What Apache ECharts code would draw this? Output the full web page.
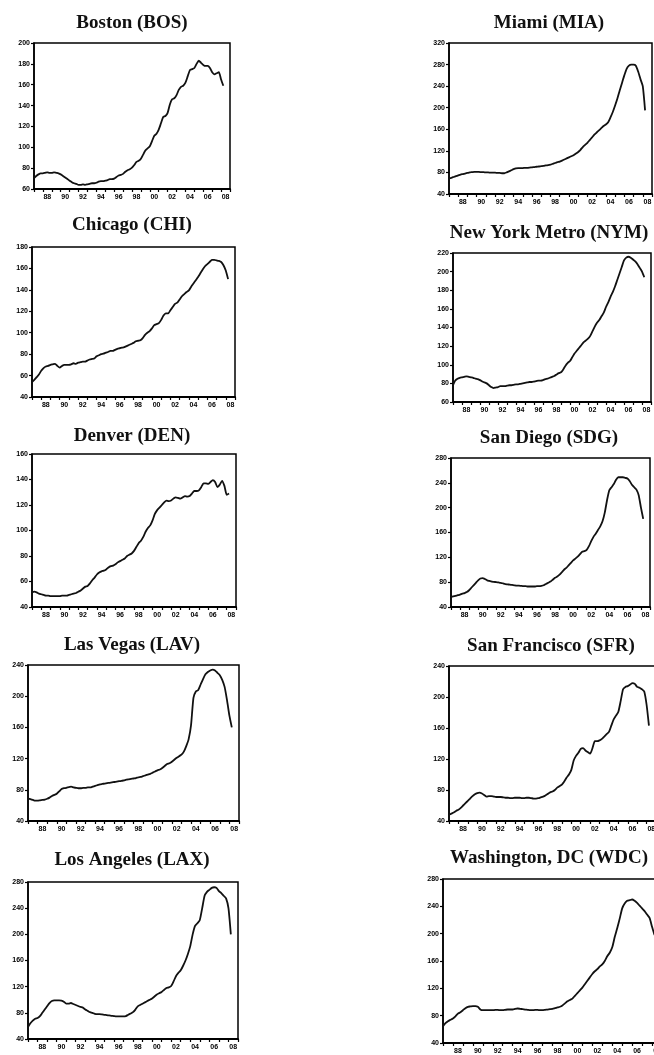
<!DOCTYPE html>
<html><head><meta charset="utf-8">
<script src="https://cdn.jsdelivr.net/npm/echarts@6/dist/echarts.min.js"></script>
<style>html,body{margin:0;padding:0;background:#fff}#c{width:654px;height:1055px}</style>
</head><body><div id="c"></div>
<script>
// ---------- DATA ----------
// quarterly observations, first at 1987 Q1, last at 2008 Q2
const START_YEAR = 1987;
const STEP = 0.25;
const yearCats = ['1987','1988','1989','1990','1991','1992','1993','1994','1995','1996','1997','1998','1999','2000','2001','2002','2003','2004','2005','2006','2007','2008'];
const xTickLabels = ['88','90','92','94','96','98','00','02','04','06','08'];

const titles = ['Boston (BOS)','Miami (MIA)','Chicago (CHI)','New York Metro (NYM)','Denver (DEN)','San Diego (SDG)','Las Vegas (LAV)','San Francisco (SFR)','Los Angeles (LAX)','Washington, DC (WDC)'];

const yMin  = [60, 40, 40, 60, 40, 40, 40, 40, 40, 40];
const yMax  = [200,320,180,220,160,280,240,240,280,280];
const yStep = [20, 40, 20, 20, 20, 40, 40, 40, 40, 40];

const BOS = [70.5,72.5,74,75, 75,75.5,76,75.5, 75.5,76,75.5,75, 74,72.5,71,69.5, 68,66.5,65.5,65, 64,64,64.5,64, 64.5,65,65.5,65.5, 66,67,67.5,67.5, 68,68.5,69.5,69.5, 70,71.5,73,73.5, 74.5,76.5,78,79, 80.5,83,86,87, 89,93,97,99, 101,106,111,113, 117,123,129,130, 133,141,146,147, 150,155,158,159, 162,168,174,175, 176,180,183,181, 179,178,178,176, 172,170,171,172, 165,159];
const MIA = [69,70,71.5,73, 74.5,76,77,78, 79,80,80.5,81, 81,81,80.5,80.5, 80,80,79.5,79.5, 79.5,79,79,78.5, 78.5,80,82,84, 86,87.5,88,88, 88,88.5,88.5,89, 89.5,90,90.5,91, 91.5,92,93,93.5, 94.5,96,97.5,99, 100,102,104,106, 108,110,112,115, 118,122,127,131, 135,140,145,150, 154,158,162,166, 169,173,182,192, 204,217,232,246, 260,272,278,280, 280,278,267,253, 240,195];
const CHI = [54,56,58.5,61, 64.5,67,68.5,69, 70,70.5,71,69, 67.5,69,70,70, 70,70.5,71.5,71, 72,72.5,73,73, 74,75,75.5,76, 78,79,80,80.5, 81.5,82,83,83, 84,85,85.5,86, 86.5,87.5,88.5,89.5, 90.5,92,92.5,93, 95,98,100,101.5, 104,107,108,109, 112,116,118,118, 121,124,127,128, 131,134,136,138, 139.5,143,146,149, 152,155.5,159,162, 164,166,168,168, 167.5,167,166,163, 158,150];
const NYM = [78,83,85,86, 86.5,87,87.5,87, 86.5,86,85,84.5, 83.5,82,81,80, 78,76,75,75.5, 76,77,77,77, 77.5,78,78,78.5, 79,79,79.5,80, 80.5,81,81.5,81.5, 82,82.5,83,83, 83.5,84.5,85,86, 87,88,89.5,91, 92,95,99,102, 104,108,112,115, 118,121,124,126, 128,131,136,141, 145,148,152,156, 162,167,173,178, 184,191,198,205, 212,215,216,215, 213,211,208,204, 200,194];
const DEN = [51.5,52,51.5,50.5, 50,49.5,49,49, 48.5,48.5,48.5,48.5, 48.5,49,49,49, 49.5,50,50.5,51, 52,53,54.5,56, 56.5,58.5,61,63, 65.5,67,68,68.5, 69.5,71,72,72.5, 73.5,75,76,77, 78,80,81,82, 84,87,90,92, 95,99,102,104, 108,113,116,118, 120,122,123.5,123, 123.5,125,126,125.5, 125,126,127,126.5, 127,129,131,131, 131.5,134,137,137, 136.5,138,139.5,138, 134,136,139,135, 128,129];
const SDG = [56,57,58,59, 60,61.5,62.5,64, 67,71,75,79, 83,86,86.5,85, 83,82,81,80.5, 80,79.5,79,78, 77,76.5,76,75.5, 75,74.5,74.5,74, 73.5,73.5,73,73, 73,73,73.5,73.5, 74,75,77,79, 81,84,87,89, 92,96,100,103, 107,111,115,118, 121,125,129,130, 132,138,146,153, 158,164,170,178, 192,212,228,233, 238,245,249,249, 249,248,247,243, 237,233,229,220, 200,182];
const LAV = [69,68,67,66, 66,66.5,67,67.5, 68.5,70,72,73.5, 75,78,81,82, 82.5,83.5,84,83, 82.5,82,82,82.5, 82.5,83,83,84, 85,86,87,87.5, 88,88.5,89,89.5, 90,90.5,91,91.5, 92,93,93.5,94, 94.5,95,96,96.5, 97.5,98.5,99.5,100.5, 102,103.5,105,106, 108,110.5,113,114, 116,118.5,121,123, 125,129,136,145, 163,198,206,208, 215,222,228,231, 233,234,233,230, 227,221,212,195, 175,160];
const SFR = [48,49.5,51,53, 54.5,57,60,63, 66,69,72,74.5, 76,76.5,75.5,73.5, 71.5,72,72,71.5, 71,71,71,70.5, 70,70,69.5,69.5, 70,70,70,69.5, 69.5,70,70,69.5, 69,69,69.5,70.5, 71.5,73,75,77, 78,80,83,85, 87,91,96,100, 106,118,124,128, 133,134,131,129, 127,134,143,143, 144,146,149,152, 155,163,171,176, 181,195,210,213, 214,216,218,217, 213,212,210,207, 190,163];
const LAX = [58.5,64,68,71, 72,75,80,85, 90,95,98,99, 99,99,98.5,97, 94,94,95,93.5, 92,90.5,89,88, 85,83,81,80, 78.5,78,78,77.5, 77,76.5,76,75.5, 75,74.5,74.5,74.5, 74.5,75,77,79, 81,85,90,92, 94,96,98,100, 102,105,108,110, 112,115,118,119, 121,128,136,141, 145,152,160,170, 182,200,213,217, 222,240,259,265, 268,271,272,271, 266,263,259,255, 240,200];
const WDC = [64.5,69,72,74, 76,79,83,85, 88,91,93,93.5, 94,94,93,89, 88,88,88,88, 88,88.5,88.5,88, 88,88.5,89,89, 89,90,90.5,90, 89.5,89,88.5,88, 88,88.5,88.5,88, 88,88.5,89,89.5, 90,91,92,93, 95,98,101,103, 105,109,113,117, 121,126,131,136, 141,145,148,152, 155,160,167,172, 180,195,208,222, 237,244,248,249, 250,248,245,241, 237,233,228,223, 210,198];

const seriesData = [BOS, MIA, CHI, NYM, DEN, SDG, LAV, SFR, LAX, WDC];

// ---------- LAYOUT (pixels) ----------
// [gridLeft, gridTop, gridWidth, gridHeight, titleCenterX, titleCenterY]
const layout = [
  [34, 43, 196, 146, 127, 20],
  [449, 43, 203, 151, 544, 20],
  [32, 247, 203, 150, 127, 222],
  [453, 253, 198, 149, 544, 230],
  [32, 454, 204, 153, 127, 433],
  [451, 458, 199, 149, 544, 435],
  [28, 665, 211, 156, 127, 642],
  [449, 666, 207, 155, 546, 643],
  [28, 882, 210, 157, 127, 857],
  [443, 879, 219, 164, 544, 855]
];

const labelFont = {fontFamily: 'Liberation Sans, Arial, sans-serif', fontSize: 7, fontWeight: 'bold', color: '#000'};

const option = {animation: false, backgroundColor: '#fff', title: [], grid: [], xAxis: [], yAxis: [], series: []};

seriesData.forEach((vals, i) => {
  const L = layout[i];
  option.title.push({
    text: titles[i], left: L[4], top: L[5] - 11, textAlign: 'center',
    textStyle: {fontFamily: 'Liberation Serif, Times New Roman, serif', fontWeight: 'bold', fontSize: 19, color: '#111'}
  });
  option.grid.push({left: L[0], top: L[1], width: L[2], height: L[3], show: true, borderColor: '#000', borderWidth: 1.5, backgroundColor: 'transparent', containLabel: false, outerBoundsMode: 'none'});
  option.xAxis.push({
    gridIndex: i, type: 'category', data: yearCats, boundaryGap: true, position: 'bottom',
    axisLine: {show: true, lineStyle: {color: '#000', width: 1.8}},
    axisTick: {show: true, interval: 0, length: 3, inside: false, lineStyle: {color: '#000', width: 1.2}},
    axisLabel: Object.assign({
      margin: 5,
      interval: (idx) => idx % 2 === 1,
      formatter: (v) => xTickLabels[yearCats.indexOf(v) >> 1]
    }, labelFont),
    splitLine: {show: false}
  });
  option.xAxis.push({gridIndex: i, type: 'value', min: START_YEAR, max: START_YEAR + yearCats.length, show: false});
  option.yAxis.push({
    gridIndex: i, type: 'value', min: yMin[i], max: yMax[i], interval: yStep[i],
    axisLine: {show: true, lineStyle: {color: '#000', width: 1.5}},
    axisTick: {show: true, length: 3, lineStyle: {color: '#000', width: 1.2}},
    axisLabel: Object.assign({margin: 4}, labelFont),
    splitLine: {show: false}
  });
  option.series.push({
    type: 'line', xAxisIndex: 2 * i + 1, yAxisIndex: i,
    data: vals.map((v, k) => [START_YEAR + k * STEP, v]),
    showSymbol: false, smooth: 0.2,
    lineStyle: {color: '#111', width: 1.8}
  });
});

const chart = echarts.init(document.getElementById('c'), null, {renderer: 'canvas'});
chart.setOption(option);
</script>
</body></html>
